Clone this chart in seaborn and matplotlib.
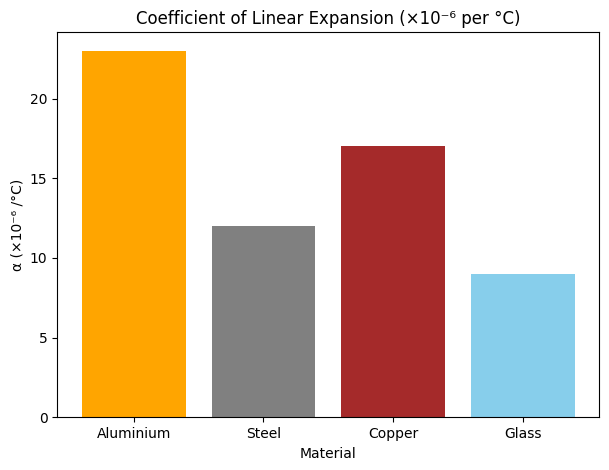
import matplotlib
matplotlib.use("Agg")
import matplotlib.pyplot as plt
import pandas as pd
import seaborn as sns

materials = ["Aluminium", "Steel", "Copper", "Glass"]
alpha_values = [23, 12, 17, 9]
bar_colors = ["orange", "gray", "brown", "skyblue"]

df = pd.DataFrame({"Material": materials, "alpha": alpha_values})

fig, ax = plt.subplots(figsize=(6.09, 4.70), dpi=100)
fig.subplots_adjust(left=0.094, right=0.984, top=0.931, bottom=0.112)

sns.barplot(data=df, x="Material", y="alpha", hue="Material",
            palette=dict(zip(materials, bar_colors)), saturation=1,
            width=0.8, legend=False, ax=ax)

ax.set_xlim(-0.59, 3.59)
ax.set_ylim(0, 23 * 1.05)
ax.set_title("Coefficient of Linear Expansion (×10⁻⁶ per °C)")
ax.set_xlabel("Material")
ax.set_ylabel("α (×10⁻⁶ /°C)")

fig.savefig("out.png", dpi=100)
